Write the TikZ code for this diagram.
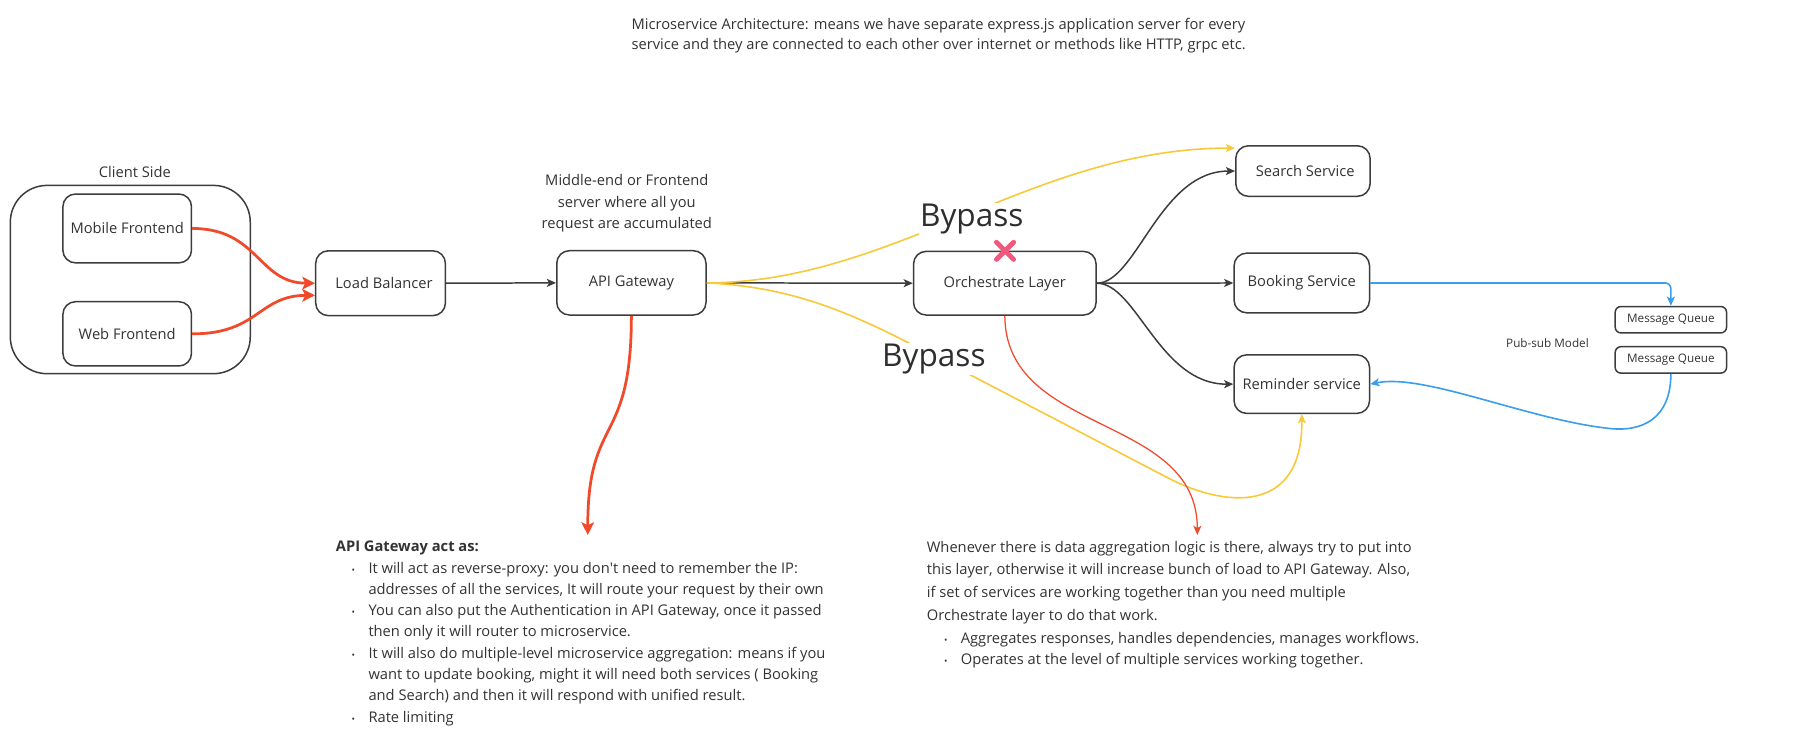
\documentclass[tikz,border=0pt]{standalone}
\usepackage{fontspec}
\setmainfont{Open Sans}
\usetikzlibrary{arrows.meta}
\definecolor{ink}{HTML}{333333}
\definecolor{edge}{HTML}{3C3C3C}
\definecolor{redline}{HTML}{F04A2B}
\definecolor{yel}{HTML}{F8C93A}
\definecolor{blu}{HTML}{3A9EEC}
\definecolor{pink}{HTML}{F0587E}
\newcommand{\fsz}[2]{\fontsize{#1}{#2}\selectfont}
\newcommand{\mybul}{{\fsz{8}{8}\textbullet}}
\tikzset{
  box/.style={draw=edge, line width=1.3pt, rounded corners=11pt, text=ink, font=\fsz{12.8}{15}, inner sep=0pt},
  smallbox/.style={draw=edge, line width=1.3pt, rounded corners=5pt, text=ink, font=\fsz{10.2}{12}, inner sep=0pt, minimum width=97pt, minimum height=23pt},
  lbl/.style={text=ink, font=\fsz{12.8}{15}, inner sep=0pt},
  line/.style={anchor=base west, text=ink, font=\fsz{12.8}{15}, inner sep=0pt},
  bul/.style={anchor=base, text=ink, inner sep=0pt},
  bypass/.style={anchor=base, fill=white, text=ink!90!black, font=\fsz{27.5}{30}, inner sep=1pt},
  grayarrow/.style={draw=edge, line width=1.3pt, -{Stealth[length=8pt,width=7pt,inset=2pt]}},
  redthick/.style={draw=redline, line width=2.4pt, -{Stealth[length=11pt,width=11pt,inset=2.5pt]}},
  redthin/.style={draw=redline, line width=1.1pt, -{Stealth[length=8pt,width=7pt,inset=2pt]}},
  yelarrow/.style={draw=yel, line width=1.4pt, -{Stealth[length=8pt,width=7pt,inset=2pt]}},
  bluarrow/.style={draw=blu, line width=1.4pt, -{Stealth[length=8pt,width=7pt,inset=2pt]}},
}
\begin{document}
\begin{tikzpicture}[x=1pt,y=-1pt]
\useasboundingbox[fill=white] (0,0) rectangle (1568,649);

% title
\node[line] (t1) at (550,26) {Microservice Architecture: means we have separate express.js application server for every};
\node[line] (t2) at (550,43) {service and they are connected to each other over internet or methods like HTTP, grpc etc.};

% client side
\node[lbl] (cslabel) at (117.5,149.5) {Client Side};
\node[box, rounded corners=32pt, minimum width=209pt, minimum height=164pt] (client) at (113.5,243.5) {};
\node[box, minimum width=112pt, minimum height=60pt] (mobile) at (110.8,199) {Mobile Frontend};
\node[box, minimum width=112pt, minimum height=56pt] (web) at (110.8,290.8) {Web Frontend};

% main boxes
\node[box, minimum width=113pt, minimum height=56.5pt] (lb) at (331.5,246.7) {\hspace*{6pt}Load Balancer};
\node[box, minimum width=130pt, minimum height=56pt] (api) at (550,246.4) {\raisebox{2.5pt}{API Gateway}};
\node[lbl, align=center, font=\fsz{12.8}{19}] (mid) at (546,177) {Middle-end or Frontend\\server where all you\\request are accumulated};
\node[box, minimum width=159pt, minimum height=55.5pt] (orch) at (875.3,246.7) {\raisebox{3pt}{Orchestrate Layer}};

\node[box, minimum width=117pt, minimum height=44pt] (search) at (1135,149) {\hspace*{4pt}Search Service};
\node[box, minimum width=118pt, minimum height=52pt] (booking) at (1134,246.5) {Booking Service};
\node[box, minimum width=118pt, minimum height=51pt] (reminder) at (1134,334.6) {Reminder service};

\node[smallbox] (mq1) at (1455.5,278.5) {Message Queue};
\node[smallbox] (mq2) at (1455.5,313.5) {Message Queue};
\node[lbl, font=\fsz{10.2}{12}] (pubsub) at (1348,299) {Pub-sub Model};

% connectors
\draw[redthick] (mobile.east) .. controls (225,199) and (225,246.5) .. (lb.west);
\draw[redthick] (web.east) .. controls (225,291) and (225,257.5) .. ([yshift=-10.5pt]lb.west);
\draw[grayarrow] (lb.east) -- (api.west);
\draw[grayarrow] (api.east) -- (orch.west);

\draw[yelarrow] (api.east) .. controls (780,246) and (900,129) .. ([yshift=20pt]search.west);
\draw[yelarrow] (api.east) .. controls (690,250) and (740,272) .. (800,303) -- (1015,415) .. controls (1065,442) and (1135,450) .. (reminder.south);

\draw[redthick] (api.south) .. controls (550,390) and (512,360) .. (512,466);
\coordinate (orchnote) at (1043,466);
\draw[redthin] (orch.south) .. controls (876,380) and (1043,360) .. (orchnote);

\draw[grayarrow] (orch.east) .. controls (990,246.7) and (1010,149) .. (search.west);
\draw[grayarrow] (orch.east) -- (booking.west);
\draw[grayarrow] (orch.east) .. controls (990,246.7) and (1010,335) .. (reminder.west);

\draw[bluarrow, rounded corners=5pt] (booking.east) -| (mq1.north);
\draw[bluarrow] (mq2.south) .. controls (1455.5,365) and (1430,377) .. (1400,373) .. controls (1330,365) and (1240,325) .. (reminder.east);

% bypass labels
\node[bypass] (bp1) at (846.5,197.5) {Bypass};
\node[bypass] (bp2) at (813.5,319.4) {Bypass};

% blocked mark
\draw[pink, line width=4.2pt, line cap=round] (868,211) -- (883,226) (883,211) -- (868,226);

% left notes
\node[line, font=\bfseries\fsz{12.8}{15}] (h1) at (292.4,480.3) {API Gateway act as:};
\node[bul] (b1) at (307.8,499.5) {\mybul};
\node[line] (l1) at (320.8,499.5) {It will act as reverse-proxy: you don\textquotesingle t need to remember the IP:};
\node[line] (l2) at (320.8,518) {addresses of all the services, It will route your request by their own};
\node[bul] (b2) at (307.8,536.3) {\mybul};
\node[line] (l3) at (320.8,536.3) {You can also put the Authentication in API Gateway, once it passed};
\node[line] (l4) at (320.8,554.6) {then only it will router to microservice.};
\node[bul] (b3) at (307.8,573.5) {\mybul};
\node[line] (l5) at (320.8,573.5) {It will also do multiple-level microservice aggregation: means if you};
\node[line] (l6) at (320.8,592.1) {want to update booking, might it will need both services ( Booking};
\node[line] (l7) at (320.8,610.4) {and Search) and then it will respond with unified result.};
\node[bul] (b4) at (307.8,629.2) {\mybul};
\node[line] (l8) at (320.8,629.2) {Rate limiting};

% right notes
\node[line] (r1) at (807.2,481.1) {Whenever there is data aggregation logic is there, always try to put into};
\node[line] (r2) at (807.2,500.6) {this layer, otherwise it will increase bunch of load to API Gateway. Also,};
\node[line] (r3) at (807.2,520.3) {if set of services are working together than you need multiple};
\node[line] (r4) at (807.2,540.4) {Orchestrate layer to do that work.};
\node[bul] (rb1) at (824,560.4) {\mybul};
\node[line] (r5) at (836.8,560.4) {Aggregates responses, handles dependencies, manages workflows.};
\node[bul] (rb2) at (824,578.8) {\mybul};
\node[line] (r6) at (836.8,578.8) {Operates at the level of multiple services working together.};
\end{tikzpicture}
\end{document}
